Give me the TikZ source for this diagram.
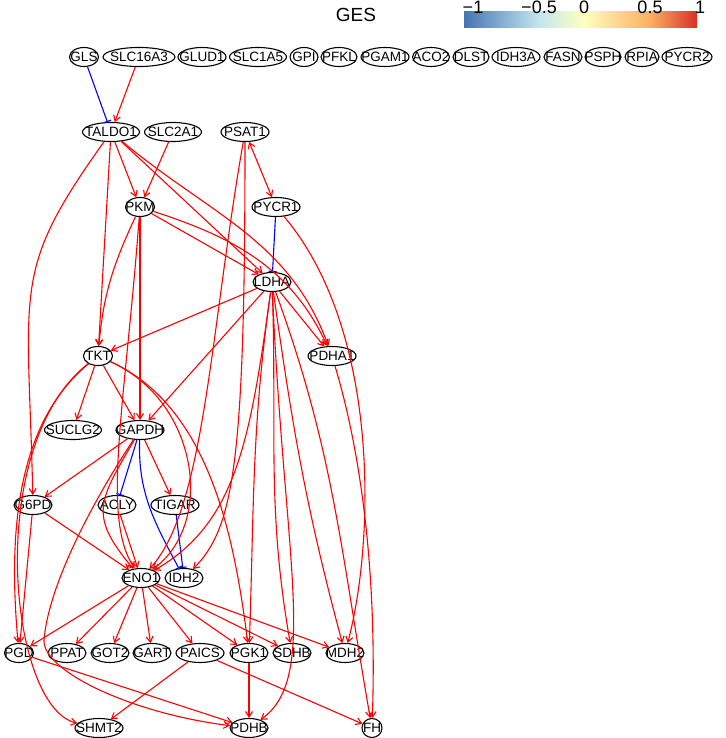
\documentclass[tikz,border=0pt]{standalone}
\usepackage{fontspec}
\setmainfont{Liberation Sans}
\usetikzlibrary{arrows.meta,shapes.geometric}
\definecolor{actred}{RGB}{255,0,0}
\definecolor{inhblue}{RGB}{0,0,255}
\definecolor{gesA}{RGB}{69,117,180}
\definecolor{gesB}{RGB}{196,229,239}
\definecolor{gesC}{RGB}{255,255,191}
\definecolor{gesD}{RGB}{253,174,97}
\definecolor{gesE}{RGB}{215,48,39}

\tikzset{
  gene/.style={ellipse,draw,line width=1.1pt,fill=white,inner sep=0pt,
    minimum height=19pt,minimum width=#1,font=\fontsize{13.5}{15}\selectfont,
    execute at begin node={\setbox0=\hbox\bgroup},
    execute at end node={\egroup\hbox to 0pt{\hss\box0\hss}}},
  act/.style={draw=actred,line width=1.1pt,->},
  inh/.style={draw=inhblue,line width=1.1pt,-{Bar[width=8pt,line width=1.1pt]}},
  tick/.style={font=\fontsize{18}{20}\selectfont}
}

\begin{document}
\begin{tikzpicture}[x=1pt,y=1pt,>={Straight Barb[length=5.5pt,width=7pt]}]
  \useasboundingbox (0,0) rectangle (725,-738);

  % colour key
  \node[font=\fontsize{19}{22}\selectfont] (key) at (356,-15) {GES};
  \shade[left color=gesA,right color=gesB] (464,-12) rectangle (539,-28);
  \shade[left color=gesB,right color=gesC] (539,-12) rectangle (584,-28);
  \shade[left color=gesC,right color=gesD] (584,-12) rectangle (650,-28);
  \shade[left color=gesD,right color=gesE] (650,-12) rectangle (697,-28);
  \foreach \v/\x in {−1/473,−0.5/539,0/584,0.5/650,1/700}
    \node[tick] at (\x,-7) {\v};

  % genes without links
  \foreach \n/\x/\w in {GLS/84/29,SLC16A3/139/72,GLUD1/202/48,SLC1A5/258/57,
    GPI/304/28,PFKL/339/36,PGAM1/385/48,ACO2/431/37,DLST/471/36,IDH3A/516/48,
    FASN/563/38,PSPH/603/36,RPIA/642/34,PYCR2/687/50}
    \node[gene=\w] (\n) at (\x,-57) {\n};

  % network genes
  \foreach \n/\x/\y/\w in {TALDO1/111/132/57,SLC2A1/173/132/57,PSAT1/245/132/48,
    PKM/140/207/29,PYCR1/276/207/48,LDHA/272/282/38,TKT/98/356/29,PDHA1/332/356/48,
    SUCLG2/73/430/57,GAPDH/140/430/48,G6PD/33/505/38,ACLY/117/505/38,TIGAR/175/505/48,
    ENO1/141/578/38,IDH2/184/578/38,PGD/19/653/29,PPAT/67/653/38,GOT2/110/653/38,
    GART/152/653/38,PAICS/200/653/48,PGK1/249/653/38,SDHB/292/653/38,MDH2/345/653/38,
    SHMT2/99/728/48,PDHB/249/728/38,FH/372/728/20}
    \node[gene=\w] (\n) at (\x,-\y) {\n};

  % inhibitions
  \draw[inh] (GLS) -- (TALDO1);
  \draw[inh] (PYCR1) -- (LDHA);
  \draw[inh] (GAPDH) -- (ACLY);
  \draw[inh] (GAPDH) to[out=268,in=118] (IDH2);
  \draw[inh] (TIGAR) -- (IDH2);

  % straight activations
  \foreach \a/\b in {SLC16A3/TALDO1,TALDO1/TKT,TALDO1/PKM,TALDO1/LDHA,SLC2A1/PKM,
    PKM/LDHA,PKM/GAPDH,LDHA/TKT,LDHA/GAPDH,LDHA/PDHA1,TKT/SUCLG2,TKT/GAPDH,
    GAPDH/G6PD,GAPDH/TIGAR,G6PD/PGD,G6PD/ENO1,ACLY/ENO1,ENO1/PGD,ENO1/PPAT,
    ENO1/GOT2,ENO1/GART,ENO1/PAICS,ENO1/PGK1,ENO1/SDHB,ENO1/MDH2,PAICS/SHMT2,
    PAICS/FH,PGK1/PDHB,PGD/PDHB}
    \draw[act] (\a) -- (\b);
  \draw[act,<->] (PSAT1) -- (PYCR1);

  % curved activations
  \draw[act] (TALDO1) .. controls +(-100,-140) and +(-5,220) .. (G6PD);
  \draw[act] (TALDO1) to[out=-40,in=110] (PDHA1);
  \draw[act] (PKM) to[out=-18,in=115] (PDHA1);
  \draw[act] (PKM) to[out=245,in=85] (TKT);
  \draw[act] (PSAT1) .. controls +(-35,-200) and +(64,69) .. (ENO1);
  \draw[act] (PSAT1) .. controls +(0,-330) and +(50,50) .. (IDH2);
  \draw[act] (LDHA) .. controls +(-22,-160) and +(95,55) .. (ENO1);
  \draw[act] (LDHA) to[out=262,in=88] (PGK1);
  \draw[act] (LDHA) to[out=272,in=100] (SDHB);
  \draw[act] (LDHA) .. controls +(12,-280) and +(70,50) .. (PDHB);
  \draw[act] (LDHA) to[out=278,in=105] (MDH2);
  \draw[act] (LDHA) to[out=-70,in=100] (FH);
  \draw[act] (PYCR1) .. controls +(104,-123) and +(30,113) .. (MDH2);
  \draw[act] (PDHA1) .. controls +(30,-100) and +(5,150) .. (FH);
  \draw[act] (TKT) .. controls +(-85,-70) and +(-10,110) .. (PGD);
  \draw[act] (TKT) .. controls +(-115,-90) and +(-90,20) .. (SHMT2);
  \draw[act] (TKT) .. controls +(100,-45) and +(75,55) .. (ENO1);
  \draw[act] (TKT) .. controls +(110,-50) and +(-15,120) .. (PGK1);
  \draw[act] (GAPDH) to[out=240,in=130,looseness=1.4] (ENO1);
  \draw[act] (PKM) .. controls +(-15,-200) and +(-40,60) .. (ENO1);
  \draw[act] (GAPDH) .. controls +(-40,-60) and +(5,60) .. (44,-640)
    .. controls +(-2,-30) and +(-120,15) .. (PDHB);
\end{tikzpicture}
\end{document}
